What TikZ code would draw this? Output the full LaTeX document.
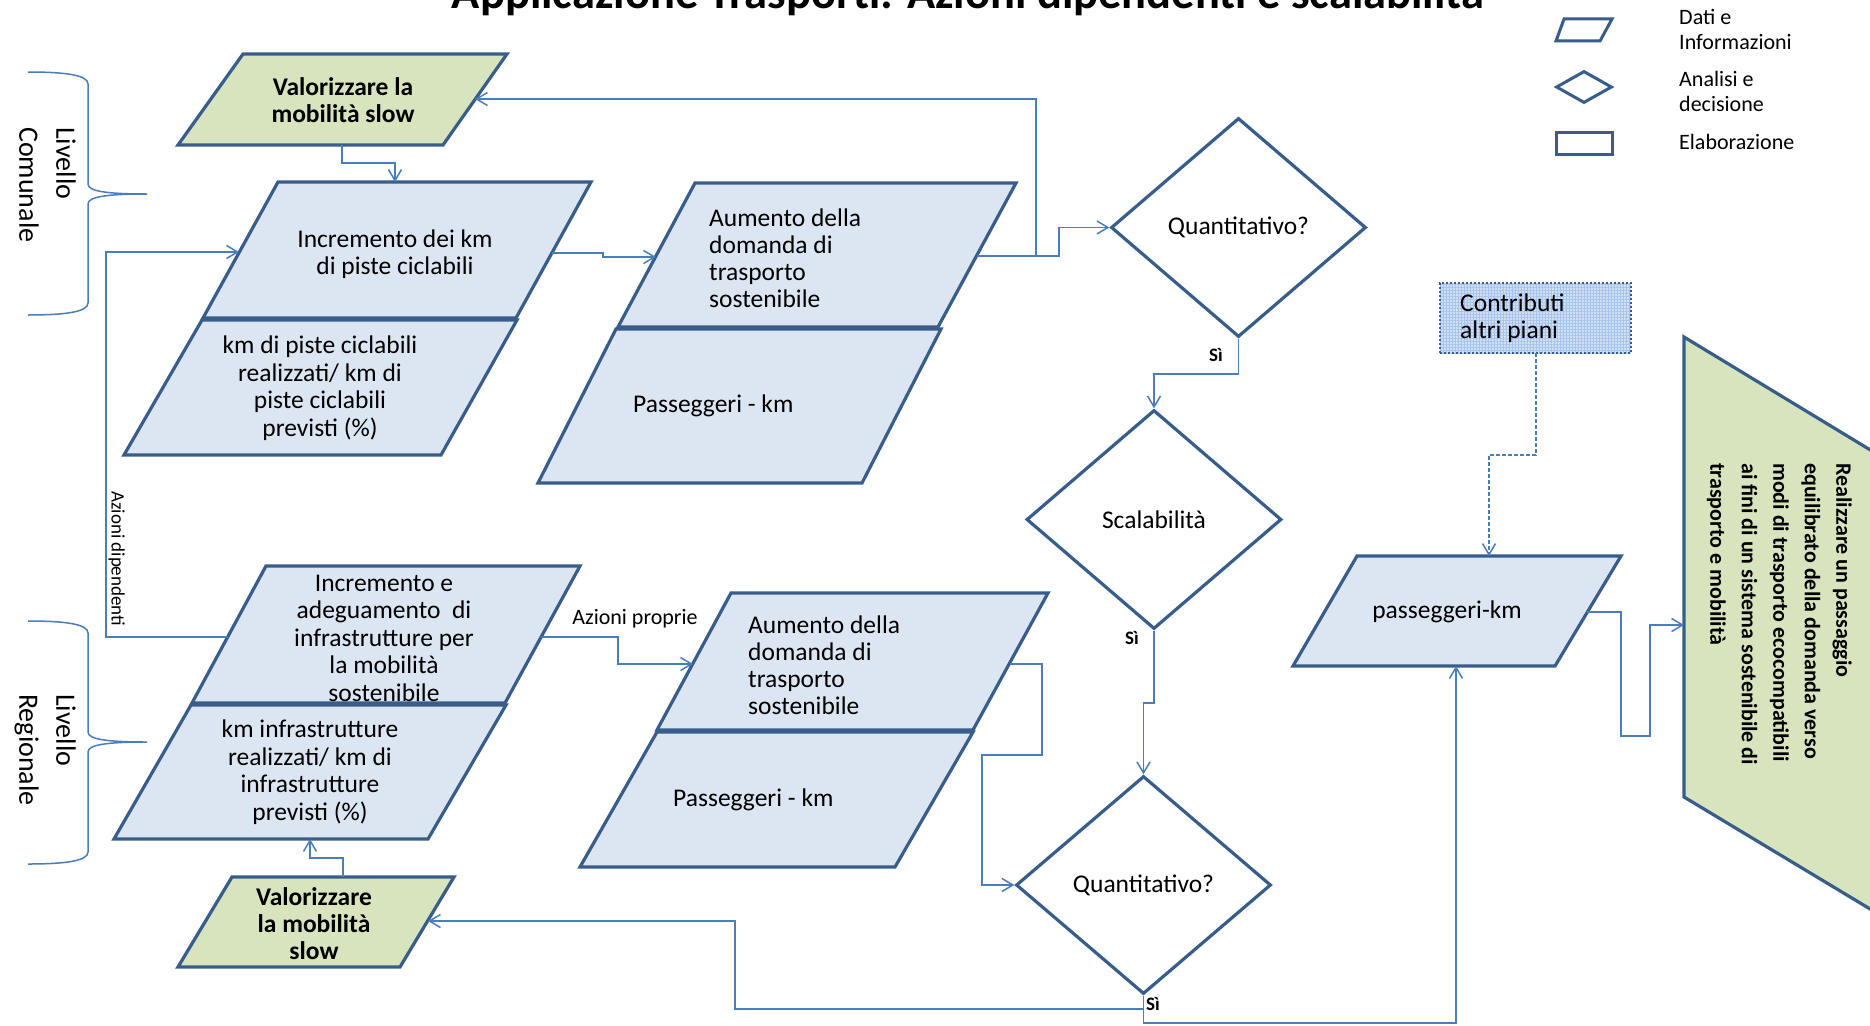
\documentclass[tikz,border=0pt]{standalone}
\usepackage{fontspec}
\setmainfont{Carlito}
\usetikzlibrary{arrows.meta,shapes.geometric,patterns.meta}
\definecolor{bord}{RGB}{56,93,138}
\definecolor{fblue}{RGB}{220,230,242}
\definecolor{fgreen}{RGB}{215,228,189}
\definecolor{conncol}{RGB}{74,126,187}
\definecolor{cfill}{RGB}{208,223,243}
\definecolor{cgrid}{RGB}{165,195,235}
\newcommand\parabox[7]{\path[#1] (#2,#6) -- (#3,#6) -- (#4,#7) -- (#5,#7) -- cycle;}
\begin{document}
\begin{tikzpicture}[x=1pt,y=-1pt,
  shapeline/.style={draw=bord, line width=3.2pt, line join=miter},
  bluebox/.style={shapeline, fill=fblue},
  greenbox/.style={shapeline, fill=fgreen},
  legbox/.style={draw=bord, line width=3pt, fill=white},
  txt/.style={font=\fontsize{25.5}{27.5}\selectfont, align=center, inner sep=0pt},
  txtl/.style={font=\fontsize{25.5}{27}\selectfont, align=left, inner sep=0pt},
  gtxt/.style={font=\fontsize{25.5}{27}\selectfont\bfseries, align=center, inner sep=0pt},
  legtxt/.style={font=\fontsize{22}{25}\selectfont, align=left, inner sep=0pt, anchor=west},
  dec/.style={diamond, draw=bord, line width=3.2pt, fill=white, minimum width=255pt, minimum height=219pt, inner sep=0pt, font=\fontsize{25.5}{27.5}\selectfont},
  link/.style={draw=conncol, line width=1.5pt, -{Straight Barb[length=11pt,width=13pt]}},
  bracel/.style={draw=conncol, line width=1.5pt},
  lbl/.style={font=\fontsize{19}{22}\selectfont\bfseries, inner sep=0pt},
  side/.style={font=\fontsize{28}{37}\selectfont, align=left, inner sep=0pt, rotate=-90, anchor=north west}
]
\useasboundingbox (0,0) rectangle (1870,1025);
\fill[white] (0,0) rectangle (1870,1025);

% title
\node[anchor=base, font=\fontsize{46.5}{50}\selectfont\bfseries, inner sep=0pt] (title) at (968,9) {Applicazione Trasporti: Azioni dipendenti e scalabilità};

% legend
\parabox{legbox}{1564}{1612}{1600}{1556}{19}{41}
\node[diamond, legbox, minimum width=56pt, minimum height=32pt, inner sep=0pt] (legdec) at (1584,87) {};
\node[legbox, minimum width=56pt, minimum height=22pt, inner sep=0pt] (legrect) at (1584,143) {};
\node[legtxt] (legt1) at (1679,29.5) {Dati e\\Informazioni};
\node[legtxt] (legt2) at (1679,91) {Analisi e\\decisione};
\node[legtxt] (legt3) at (1679,142) {Elaborazione};

% braces and side labels
\draw[bracel] (28,72) .. controls (65,72) and (88,75) .. (88,84) -- (88,184) .. controls (88,191) and (105,194) .. (147,194) .. controls (105,194) and (88,197) .. (88,204) -- (88,303) .. controls (88,312) and (65,315) .. (28,315);
\draw[bracel] (28,621) .. controls (65,621) and (88,624) .. (88,633) -- (88,732) .. controls (88,739) and (105,742) .. (147,742) .. controls (105,742) and (88,745) .. (88,752) -- (88,852) .. controls (88,861) and (65,864) .. (28,864);
\node[side] (lc) at (76,127) {Livello\\Comunale};
\node[side] (lr) at (76,694) {Livello\\Regionale};
\node[font=\fontsize{19}{22}\selectfont, inner sep=0pt, rotate=-90, anchor=north west] (adip) at (125,491) {Azioni dipendenti};
\node[font=\fontsize{22}{25}\selectfont, inner sep=0pt] (apro) at (635,619) {Azioni proprie};

% upper row
\parabox{greenbox}{243}{507}{443}{178}{54}{145}
\node[gtxt] (g1) at (343,100) {Valorizzare la\\mobilità slow};
\parabox{bluebox}{278}{591}{516}{203}{182}{318}
\node[txt] (i1) at (395,254) {Incremento dei km\\di piste ciclabili};
\parabox{bluebox}{202}{517}{441}{124}{320}{455}
\node[txt] (k1) at (320,388) {km di piste ciclabili\\realizzati/ km di\\piste ciclabili\\previsti (\%)};
\parabox{bluebox}{695}{1016}{938}{618}{183}{327}
\node[txtl, anchor=west] (a1) at (709,258) {Aumento della\\domanda di\\trasporto\\sostenibile};
\parabox{bluebox}{616}{941}{862}{538}{329}{483}
\node[txtl, anchor=west] (p1) at (633,406) {Passeggeri - km};

% decisions
\node[dec] (q1) at (1238.5,227.5) {Quantitativo?};
\node[dec] (s1) at (1154,519.5) {Scalabilità};
\node[dec, minimum height=218pt] (q2) at (1143.5,885) {Quantitativo?};

% lower row
\parabox{bluebox}{266}{580}{505}{192}{566}{703}
\node[txt] (i2) at (384,638) {Incremento e\\adeguamento~ di\\infrastrutture per\\la mobilità\\sostenibile};
\parabox{bluebox}{191}{506}{428}{114}{705}{839}
\node[txt] (k2) at (310,772) {km infrastrutture\\realizzati/ km di\\infrastrutture\\previsti (\%)};
\parabox{bluebox}{731}{1048}{973}{657}{593}{730}
\node[txtl, anchor=west] (a2) at (748,665) {Aumento della\\domanda di\\trasporto\\sostenibile};
\parabox{bluebox}{657}{973}{895}{580}{732}{867}
\node[txtl, anchor=west] (p2) at (673,800) {Passeggeri - km};
\parabox{greenbox}{232}{454}{400}{178}{877}{967}
\node[gtxt] (g2) at (314,924) {Valorizzare\\la mobilità\\slow};

% right part
\fill[cfill] (1440,283) rectangle (1631,353);
\fill[pattern={Lines[angle=0,distance=3pt,line width=0.5pt]}, pattern color=cgrid] (1440,283) rectangle (1631,353);
\fill[pattern={Lines[angle=90,distance=3pt,line width=0.5pt]}, pattern color=cgrid] (1440,283) rectangle (1631,353);
\node[draw=bord, dotted, line width=2pt, minimum width=191pt, minimum height=70pt, inner sep=0pt] (cb) at (1535.5,318) {};
\node[txtl, anchor=west] (cbt) at (1460,318) {Contributi\\altri piani};
\parabox{bluebox}{1357}{1621}{1555}{1293}{556}{666}
\node[txt] (pk) at (1447,612) {passeggeri-km};
\path[greenbox] (1684,337) -- (1905,471) -- (1905,930) -- (1684,797) -- cycle;
\node[font=\fontsize{22}{31.5}\selectfont\bfseries, align=left, inner sep=0pt, rotate=-90, anchor=north west] (fin) at (1852,463) {Realizzare un passaggio\\equilibrato della domanda verso\\modi di trasporto ecocompatibili\\ai fini di un sistema sostenibile di\\trasporto e mobilità};

% labels
\node[lbl] (si1) at (1216,355) {Sì};
\node[lbl] (si2) at (1132,638) {Sì};
\node[lbl, anchor=west] (si3) at (1146,1004) {Sì};

% connector end points
\coordinate (g1b) at (342,145);
\coordinate (i1t) at (395,182);
\coordinate (i1r) at (552,253);
\coordinate (a1l) at (656,257);
\coordinate (a1r) at (977,256);
\coordinate (j1) at (1036,256);
\coordinate (g1r) at (475,99);
\coordinate (i1l) at (239,252);
\coordinate (i2l) at (228,637);
\coordinate (i2r) at (541,637);
\coordinate (a2l) at (693,664);
\coordinate (a2r) at (1010,664);
\coordinate (k2b) at (310,839);
\coordinate (g2t) at (343,877);
\coordinate (g2r) at (428,921);
\coordinate (pkb) at (1456,666);
\coordinate (pkt) at (1489,556);
\coordinate (pkr) at (1587,612);
\coordinate (cbb) at (1536,353);
\coordinate (finl) at (1684,625);

% connectors
\draw[link] (g1b) -- (342,163) -| (i1t);
\draw[link] (i1r) -- (603,253) -- (603,257) -- (a1l);
\draw[link] (a1r) -- (1059,256) |- (q1.west);
\draw[link] (j1) |- (g1r);
\draw[link] (q1.south) -- (1238.5,374) -| (s1.north);
\draw[link] (s1.south) -- (1154,703) -| (q2.north);
\draw[link] (i2l) -- (106,637) |- (i1l);
\draw[link] (i2r) -- (618,637) |- (a2l);
\draw[link] (a2r) -- (1042,664) -- (1042,755) -- (982,755) |- (q2.west);
\draw[link] (g2t) -- (343,858) -| (k2b);
\draw[link] (q2.south) -- (1143.5,1009) -- (735,1009) -- (735,921) -- (g2r);
\draw[link] (q2.south) -- (1143.5,1023) -| (pkb);
\draw[link, dash pattern=on 4pt off 2pt] (cbb) -- (1536,455) -| (pkt);
\draw[link] (pkr) -- (1621,612) -- (1621,736) -- (1650,736) |- (finl);
\end{tikzpicture}
\end{document}
